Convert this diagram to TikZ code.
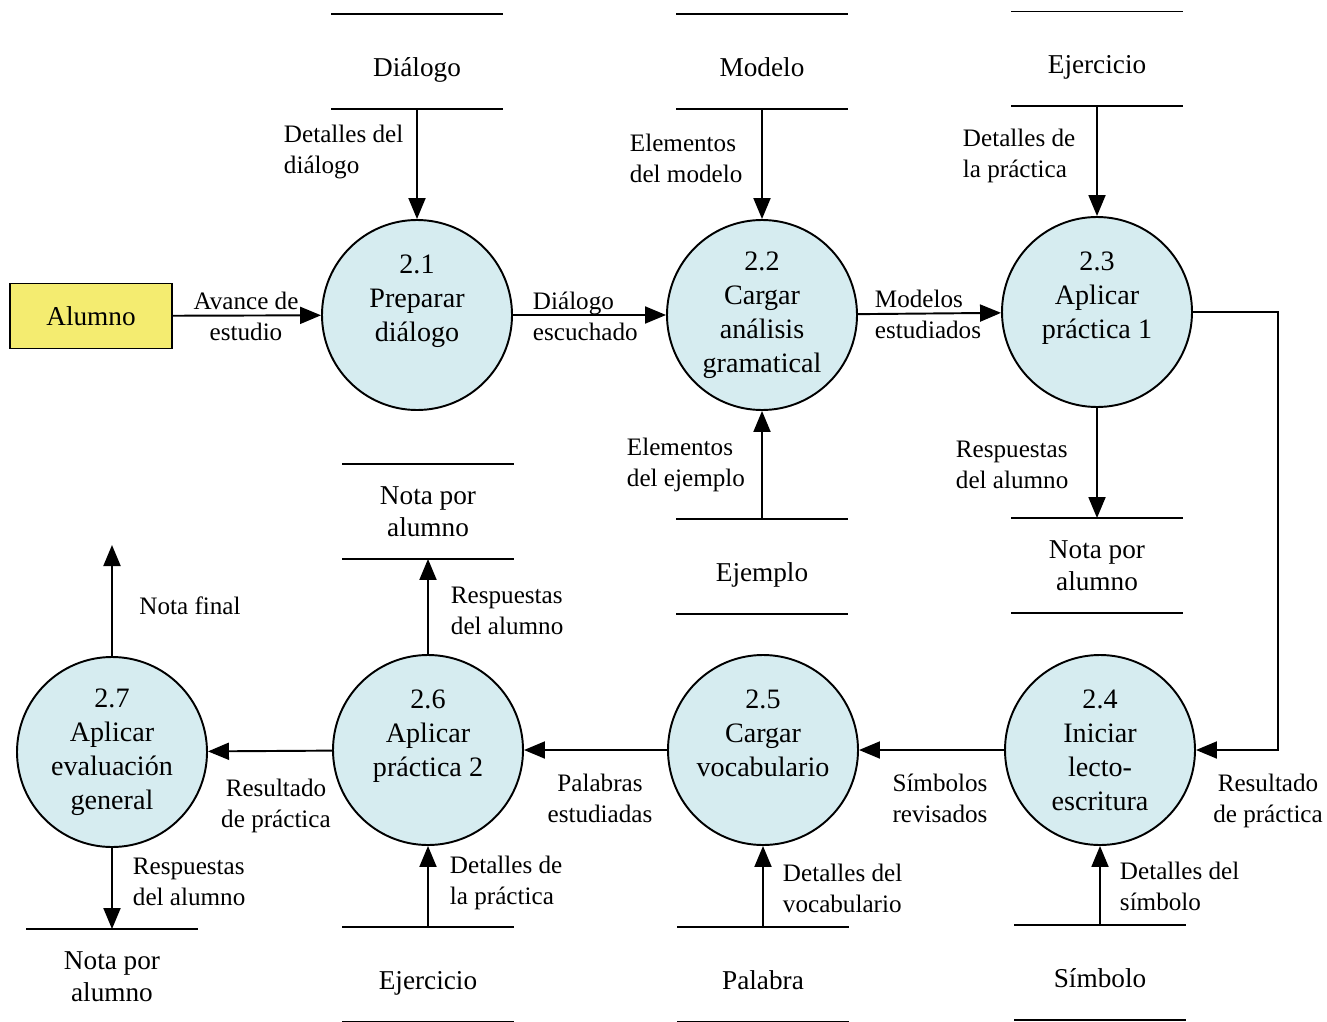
\documentclass[tikz,border=0pt]{standalone}
\usepackage{fontspec}
\setmainfont{Liberation Serif}
\usepackage{tikz}
\usetikzlibrary{arrows.meta,positioning,calc}
\definecolor{procfill}{RGB}{214,236,240}
\definecolor{extfill}{RGB}{244,236,112}

\begin{document}
\begin{tikzpicture}
[x=0.2mm, y=-0.2mm, line width=1.1pt, >={Triangle[length=4.2mm,width=3.4mm]}, ->,
 proc/.style={circle,draw,fill=procfill,minimum size=38mm,inner sep=0pt,
   align=center,font=\fontsize{16}{19.3}\selectfont},
 store/.style={minimum width=34mm,minimum height=18.6mm,inner sep=0pt,
   align=center,font=\fontsize{15.5}{18.5}\selectfont},
 store1/.style={store,text height=17pt,text depth=0pt},
 ext/.style={rectangle,draw,fill=extfill,minimum width=32.4mm,
   minimum height=13mm,font=\fontsize{15.5}{17}\selectfont},
 lbl/.style={align=left,inner sep=0pt,font=\fontsize{14.3}{17.6}\selectfont}]
\useasboundingbox (0,0) rectangle (1327,1022);

\node (alumno) at (91,316) [ext] {Alumno};

\node (p21) at (417,315) [proc] {2.1\\Preparar\\diálogo\\~};
\node (p22) at (762,315) [proc] {2.2\\Cargar\\análisis\\gramatical};
\node (p23) at (1097,312) [proc] {2.3\\Aplicar\\práctica 1\\~};
\node (p24) at (1100,750) [proc] {2.4\\Iniciar\\lecto-\\escritura};
\node (p25) at (763,750) [proc] {2.5\\Cargar\\vocabulario\\~};
\node (p26) at (428,750) [proc] {2.6\\Aplicar\\práctica 2\\~};
\node (p27) at (112,752) [proc] {2.7\\Aplicar\\evaluación\\general};

% almacenes
\node (dialogo) at (417,61.5) [store1] {Diálogo};
\node (modelo) at (762,61.5) [store1] {Modelo};
\node (ejerc1) at (1097,59) [store1] {Ejercicio};
\node (ejemplo) at (762,566.5) [store1] {Ejemplo};
\node (nota23) at (1097,565.5) [store] {Nota por\\alumno};
\node (nota26) at (428,511.5) [store] {Nota por\\alumno};
\node (nota27) at (112,976.5) [store] {Nota por\\alumno};
\node (ejerc2) at (428,974.5) [store1] {Ejercicio};
\node (palabra) at (763,974.5) [store1] {Palabra};
\node (simbolo) at (1100,972.5) [store1] {Símbolo};

\draw[-] (dialogo.north west) -- (dialogo.north east) (dialogo.south west) -- (dialogo.south east);
\draw[-] (modelo.north west) -- (modelo.north east) (modelo.south west) -- (modelo.south east);
\draw[-] (ejerc1.north west) -- (ejerc1.north east) (ejerc1.south west) -- (ejerc1.south east);
\draw[-] (ejemplo.north west) -- (ejemplo.north east) (ejemplo.south west) -- (ejemplo.south east);
\draw[-] (nota23.north west) -- (nota23.north east) (nota23.south west) -- (nota23.south east);
\draw[-] (nota26.north west) -- (nota26.north east) (nota26.south west) -- (nota26.south east);
\draw[-] (nota27.north west) -- (nota27.north east) (nota27.south west) -- (nota27.south east);
\draw[-] (ejerc2.north west) -- (ejerc2.north east) (ejerc2.south west) -- (ejerc2.south east);
\draw[-] (palabra.north west) -- (palabra.north east) (palabra.south west) -- (palabra.south east);
\draw[-] (simbolo.north west) -- (simbolo.north east) (simbolo.south west) -- (simbolo.south east);

% flujos
\draw (alumno) -- (p21);
\draw (dialogo) -- (p21);
\draw (p21) -- (p22);
\draw (modelo) -- (p22);
\draw (p22) -- (p23);
\draw (ejerc1) -- (p23);
\draw (ejemplo) -- (p22);
\draw (p23) -- (nota23);

\coordinate (bend) at (1278,750);
\draw (p23.east) -| (bend) -- (p24.east);

\draw (p24) -- (p25);
\draw (p25) -- (p26);
\draw (p26) -- (p27);
\draw (p26) -- (nota26);
\coordinate (out27) at (112,545);
\draw (p27) -- (out27);
\draw (p27) -- (nota27);
\draw (ejerc2) -- (p26);
\draw (palabra) -- (p25);
\draw (simbolo) -- (p24);

% etiquetas
\node (lavance) at (246,316) [lbl,align=center] {Avance de\\estudio};
\node (ldetdlg) at (283,152) [lbl,anchor=west] {Detalles del\\diálogo};
\node (ldlgesc) at (532,316) [lbl,anchor=west] {Diálogo\\escuchado};
\node (lelemmod) at (629,158) [lbl,anchor=west] {Elementos\\del modelo};
\node (lmodest) at (874,314) [lbl,anchor=west] {Modelos\\estudiados};
\node (ldetprac1) at (962,156) [lbl,anchor=west] {Detalles de\\la práctica};
\node (lelemej) at (626,465) [lbl,anchor=west] {Elementos\\del ejemplo};
\node (lresp23) at (955,465) [lbl,anchor=west] {Respuestas\\del alumno};
\node (lres24) at (1268,801) [lbl,align=center] {Resultado\\de práctica};
\node (lsimrev) at (940,798) [lbl,align=center] {Símbolos\\revisados};
\node (lpalest) at (600,798) [lbl,align=center] {Palabras\\estudiadas};
\node (lres26) at (276,806) [lbl,align=center] {Resultado\\de práctica};
\node (lresp26) at (450,611) [lbl,anchor=west] {Respuestas\\del alumno};
\node (lnotafin) at (190,606) [lbl] {Nota final};
\node (lresp27) at (132,882) [lbl,anchor=west] {Respuestas\\del alumno};
\node (ldetprac2) at (449,883) [lbl,anchor=west] {Detalles de\\la práctica};
\node (ldetvoc) at (782,888) [lbl,anchor=west] {Detalles del\\vocabulario};
\node (ldetsim) at (1119,886) [lbl,anchor=west] {Detalles del\\símbolo};

\end{tikzpicture}
\end{document}
